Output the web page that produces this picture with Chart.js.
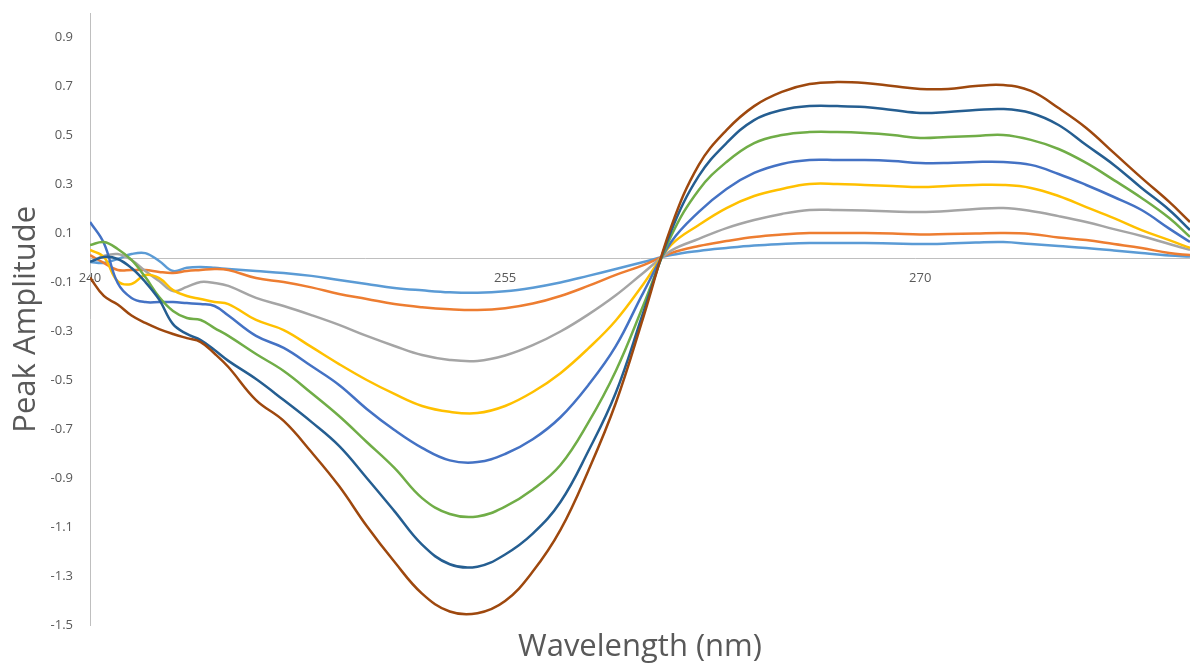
<!DOCTYPE html>
<html>
<head>
<meta charset="utf-8">
<script src="https://cdn.jsdelivr.net/npm/chart.js@4"></script>
<style>
  html, body { margin: 0; padding: 0; background: #ffffff; }
  #wrap { width: 1190px; height: 666px; position: relative; }
</style>
</head>
<body>
<div id="wrap"><canvas id="spectraChart"></canvas></div>
<script>
// wavelengths (nm) sampled every 0.5 nm at the noisy start, then every 1 nm
const wavelengths = [240, 240.5, 241, 241.5, 242, 242.5, 243, 243.5, 244, 244.5, 245,
  246, 247, 248, 249, 250, 251, 252, 253, 254, 255, 256, 257, 258, 259, 260,
  261, 262, 263, 264, 265, 266, 267, 268, 269, 270, 271, 272, 273, 274, 275,
  276, 277, 278, 279, 279.75];

const series1 = [-0.016, -0.02, -0.004, 0.016, 0.02, -0.012, -0.053, -0.04, -0.037, -0.04, -0.045,
  -0.053, -0.061, -0.073, -0.09, -0.106, -0.122, -0.132, -0.14, -0.142, -0.136, -0.121, -0.1, -0.073, -0.045, -0.016,
  0.012, 0.029, 0.041, 0.051, 0.057, 0.061, 0.061, 0.061, 0.059, 0.057, 0.059, 0.063, 0.065, 0.057, 0.049,
  0.041, 0.031, 0.02, 0.01, 0.006];
const series2 = [0.012, -0.02, -0.049, -0.049, -0.049, -0.057, -0.061, -0.053, -0.049, -0.045, -0.049,
  -0.082, -0.098, -0.12, -0.147, -0.167, -0.188, -0.201, -0.209, -0.212, -0.205, -0.186, -0.155, -0.114, -0.069, -0.029,
  0.02, 0.049, 0.069, 0.086, 0.096, 0.102, 0.102, 0.102, 0.1, 0.096, 0.098, 0.1, 0.102, 0.098, 0.084,
  0.073, 0.057, 0.041, 0.02, 0.012];
const series3 = [-0.016, 0.008, 0.016, -0.008, -0.053, -0.094, -0.135, -0.118, -0.098, -0.102, -0.114,
  -0.163, -0.196, -0.233, -0.273, -0.318, -0.359, -0.396, -0.416, -0.42, -0.398, -0.356, -0.3, -0.231, -0.152, -0.06,
  0.03, 0.078, 0.122, 0.155, 0.18, 0.196, 0.196, 0.194, 0.19, 0.188, 0.192, 0.2, 0.204, 0.192, 0.171,
  0.147, 0.118, 0.09, 0.057, 0.033];
const series4 = [0.033, 0.004, -0.094, -0.106, -0.069, -0.082, -0.131, -0.155, -0.167, -0.18, -0.188,
  -0.253, -0.294, -0.363, -0.433, -0.498, -0.555, -0.604, -0.628, -0.633, -0.604, -0.547, -0.47, -0.37, -0.255, -0.106,
  0.053, 0.135, 0.204, 0.253, 0.282, 0.302, 0.302, 0.298, 0.294, 0.29, 0.294, 0.298, 0.298, 0.286, 0.253,
  0.208, 0.163, 0.114, 0.073, 0.041];
const series5 = [0.147, 0.061, -0.102, -0.163, -0.18, -0.18, -0.18, -0.184, -0.188, -0.196, -0.235,
  -0.318, -0.367, -0.441, -0.518, -0.616, -0.702, -0.775, -0.826, -0.833, -0.8, -0.74, -0.65, -0.52, -0.36, -0.14,
  0.065, 0.188, 0.282, 0.347, 0.384, 0.4, 0.4, 0.4, 0.396, 0.388, 0.388, 0.392, 0.392, 0.38, 0.343,
  0.298, 0.249, 0.196, 0.12, 0.065];
const series6 = [0.053, 0.065, 0.037, -0.008, -0.078, -0.159, -0.216, -0.245, -0.253, -0.286, -0.318,
  -0.392, -0.461, -0.551, -0.645, -0.751, -0.857, -0.98, -1.045, -1.055, -1.015, -0.945, -0.845, -0.673, -0.461, -0.192,
  0.09, 0.278, 0.392, 0.469, 0.502, 0.514, 0.514, 0.51, 0.502, 0.49, 0.494, 0.498, 0.502, 0.482, 0.445,
  0.388, 0.318, 0.245, 0.163, 0.086];
const series7 = [-0.016, 0.004, -0.004, -0.041, -0.098, -0.17, -0.27, -0.31, -0.335, -0.376, -0.42,
  -0.494, -0.58, -0.669, -0.767, -0.898, -1.033, -1.17, -1.25, -1.26, -1.21, -1.125, -0.996, -0.79, -0.55, -0.22,
  0.11, 0.335, 0.469, 0.563, 0.604, 0.62, 0.62, 0.616, 0.604, 0.592, 0.596, 0.604, 0.608, 0.592, 0.543,
  0.461, 0.38, 0.286, 0.196, 0.114];
const series8 = [-0.08, -0.155, -0.19, -0.235, -0.265, -0.29, -0.31, -0.327, -0.343, -0.39, -0.445,
  -0.58, -0.665, -0.792, -0.931, -1.094, -1.24, -1.37, -1.443, -1.45, -1.4, -1.28, -1.11, -0.87, -0.592, -0.24,
  0.127, 0.38, 0.522, 0.62, 0.678, 0.71, 0.718, 0.714, 0.702, 0.69, 0.69, 0.702, 0.706, 0.682, 0.612,
  0.531, 0.429, 0.327, 0.229, 0.147];

const allSeries = [series1, series2, series3, series4, series5, series6, series7, series8];
const seriesColors = ['#5B9BD5', '#ED7D31', '#A5A5A5', '#FFC000', '#4472C4', '#70AD47', '#255E91', '#9E480E'];

const xTicks = [240, 255, 270];
const yTicks = [-1.5, -1.3, -1.1, -0.9, -0.7, -0.5, -0.3, -0.1, 0.1, 0.3, 0.5, 0.7, 0.9];

const fontFamily = "'Open Sans', sans-serif";
const textColor = '#595959';
const axisColor = '#BFBFBF';

const datasets = allSeries.map((values, i) => ({
  label: 'Series ' + (i + 1),
  data: wavelengths.map((w, j) => ({ x: w, y: values[j] })),
  borderColor: seriesColors[i],
  borderWidth: 2.5,
  pointRadius: 0,
  tension: 0.4,
  fill: false,
  // later series drawn on top, like the original
  order: allSeries.length - i
}));

new Chart(document.getElementById('spectraChart'), {
  type: 'line',
  data: { datasets: datasets },
  options: {
    responsive: true,
    maintainAspectRatio: false,
    animation: false,
    layout: { padding: { top: 13, left: 0, right: 0, bottom: 0 } },
    plugins: {
      legend: { display: false },
      tooltip: { enabled: false },
      title: {
        display: true,
        text: 'Wavelength (nm)',
        position: 'bottom',
        fullSize: false,
        color: textColor,
        font: { family: fontFamily, size: 31, weight: 'normal', lineHeight: 1.0 },
        padding: { top: 6, bottom: 3.5 }
      }
    },
    scales: {
      x: {
        type: 'linear',
        min: 240,
        max: 279.75,
        position: { y: 0 },
        afterBuildTicks: axis => { axis.ticks = xTicks.map(v => ({ value: v })); },
        grid: { display: false, drawTicks: true, tickLength: 8 },
        border: { display: true, color: axisColor, width: 1 },
        ticks: {
          padding: 4,
          color: textColor,
          font: { family: fontFamily, size: 13 },
          maxRotation: 0,
          callback: v => String(v)
        }
      },
      y: {
        type: 'linear',
        min: -1.5,
        max: 1.0,
        afterBuildTicks: axis => { axis.ticks = yTicks.map(v => ({ value: v })); },
        afterFit: axis => { axis.width = 90; },
        grid: { display: false, drawTicks: true, tickLength: 14 },
        border: { display: true, color: axisColor, width: 1 },
        ticks: {
          padding: 3,
          color: textColor,
          font: { family: fontFamily, size: 13 },
          callback: v => v.toFixed(1)
        },
        title: {
          display: true,
          text: 'Peak Amplitude',
          color: textColor,
          font: { family: fontFamily, size: 31, weight: 'normal' },
          padding: { top: 8, bottom: 0 }
        }
      }
    }
  }
});
</script>
</body>
</html>
